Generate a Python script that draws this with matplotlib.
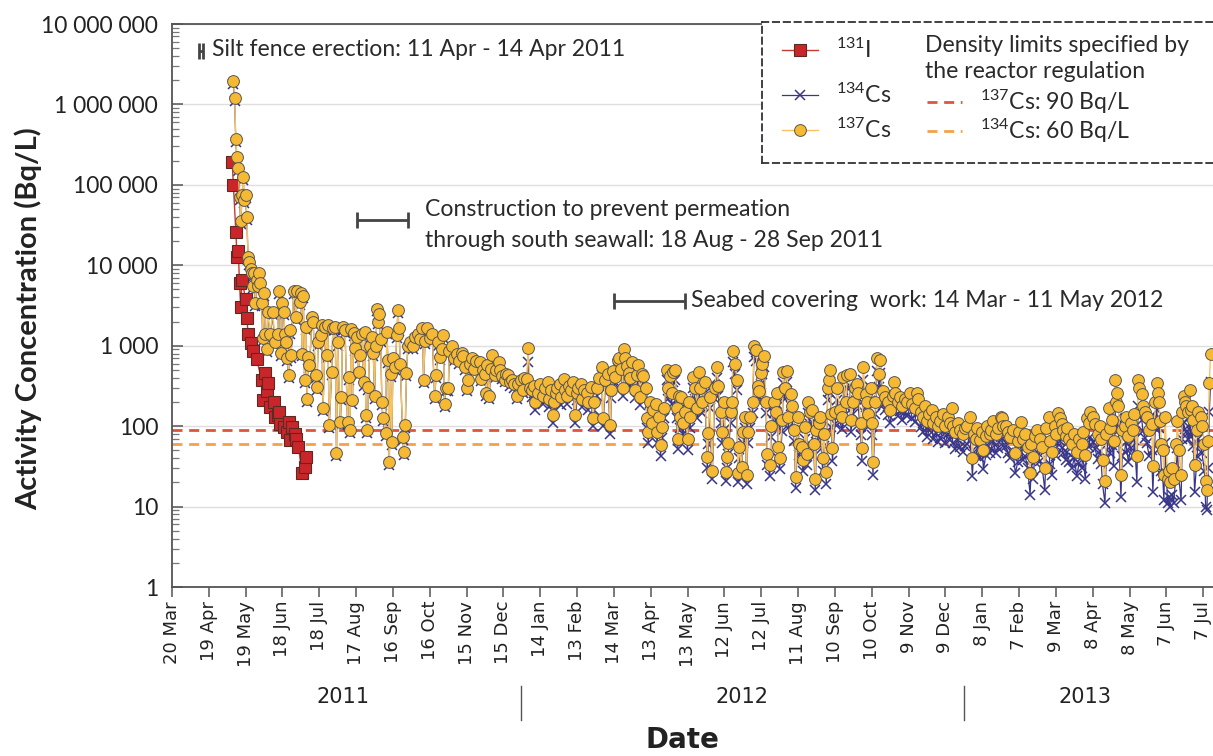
import numpy as np
import matplotlib
matplotlib.use("Agg")
import matplotlib.pyplot as plt
from matplotlib.lines import Line2D
from matplotlib.transforms import blended_transform_factory
from matplotlib.ticker import FixedLocator, FuncFormatter, LogLocator, NullFormatter

plt.rcParams["font.family"] = ["Lato", "DejaVu Sans"]
plt.rcParams["mathtext.fontset"] = "custom"
plt.rcParams["mathtext.rm"] = "Lato"
plt.rcParams["mathtext.it"] = "Lato:italic"
plt.rcParams["mathtext.bf"] = "Lato:bold"

START = np.datetime64("2011-03-20")

# ---- sampling days (days after 20 Mar 2011) and activity concentrations (Bq/L) ----
i131_days = [49, 50, 52, 53, 54, 55, 56, 57, 60, 61, 62, 64, 66, 69, 73, 74, 76, 77, 78, 80,
             83, 84, 86, 87, 88, 91, 94, 95, 96, 98, 100, 101, 103, 106, 108, 109]
i131_bq = [195000, 100000, 26000, 12500, 15000, 6000, 3000, 6500, 3800, 2200, 1380, 1080, 870, 680,
           372, 210, 455, 270, 345, 174, 200, 131, 137, 151, 107, 98, 85, 113, 67, 98, 81, 70, 55,
           26, 31, 41]

cs_days = [
    50, 51, 52, 53, 54, 55, 56, 57, 58, 59, 60, 61, 62, 63, 64, 65, 66, 67, 68, 69,
    70, 71, 72, 73, 74, 75, 76, 77, 78, 80, 82, 84, 86, 87, 89, 90, 91, 92, 93, 94,
    95, 96, 97, 99, 101, 102, 104, 105, 106, 107, 108, 109, 110, 111, 112, 114, 115, 117, 118, 119,
    121, 122, 123, 125, 126, 127, 128, 130, 131, 133, 134, 135, 137, 138, 139, 141, 143, 144, 145, 146,
    147, 148, 149, 151, 152, 153, 155, 156, 157, 158, 159, 160, 161, 163, 164, 165, 166, 167, 168, 169,
    170, 171, 172, 174, 175, 176, 177, 178, 179, 180, 182, 183, 184, 185, 186, 188, 189, 190, 191, 192,
    194, 196, 198, 200, 202, 204, 205, 206, 208, 210, 212, 214, 215, 217, 218, 220, 221, 222, 223, 225,
    226, 228, 230, 232, 234, 236, 237, 239, 240, 241, 243, 244, 246, 248, 251, 252, 253, 255, 256, 257,
    258, 260, 261, 263, 264, 266, 267, 269, 271, 272, 274, 275, 277, 279, 281, 282, 284, 286, 287, 289,
    290, 292, 293, 295, 296, 298, 300, 302, 304, 306, 307, 309, 310, 311, 313, 314, 316, 317, 319, 320,
    322, 323, 325, 327, 328, 330, 331, 333, 334, 336, 338, 339, 341, 343, 344, 346, 348, 350, 351, 353,
    355, 357, 358, 359, 361, 363, 364, 366, 367, 368, 369, 371, 372, 373, 375, 377, 379, 380, 381, 383,
    384, 386, 387, 388, 389, 391, 392, 394, 395, 397, 398, 399, 401, 403, 404, 406, 407, 408, 410, 411,
    412, 413, 414, 415, 416, 418, 420, 421, 422, 424, 426, 428, 429, 430, 432, 434, 436, 437, 438, 440,
    442, 444, 445, 447, 448, 450, 451, 452, 453, 455, 456, 457, 459, 460, 461, 462, 464, 465, 467, 468,
    469, 471, 473, 474, 476, 477, 478, 480, 481, 482, 484, 485, 487, 488, 490, 492, 493, 494, 495, 497,
    498, 499, 501, 502, 504, 505, 507, 508, 510, 511, 513, 514, 516, 517, 518, 520, 521, 523, 524, 525,
    527, 528, 530, 531, 533, 534, 535, 536, 537, 538, 540, 542, 544, 546, 547, 549, 550, 552, 553, 555,
    556, 558, 559, 561, 562, 563, 565, 566, 567, 569, 570, 571, 573, 574, 576, 577, 579, 581, 583, 585,
    587, 588, 589, 591, 593, 595, 597, 599, 601, 603, 605, 607, 608, 610, 612, 613, 615, 617, 619, 620,
    622, 624, 626, 628, 630, 632, 634, 635, 636, 638, 640, 642, 644, 646, 648, 650, 652, 653, 655, 656,
    658, 660, 661, 663, 664, 666, 667, 669, 671, 673, 675, 676, 677, 679, 681, 683, 685, 687, 689, 690,
    692, 693, 695, 697, 699, 700, 701, 703, 705, 707, 709, 711, 712, 714, 715, 717, 719, 720, 722, 723,
    725, 726, 728, 729, 731, 733, 735, 737, 739, 741, 742, 744, 745, 747, 748, 750, 752, 754, 756, 757,
    758, 760, 761, 763, 764, 766, 767, 768, 769, 770, 771, 773, 774, 776, 777, 779, 781, 783, 784, 786,
    787, 788, 790, 791, 793, 794, 796, 798, 799, 801, 802, 803, 804, 805, 806, 807, 808, 809, 811, 812,
    813, 815, 816, 818, 819, 820, 822, 823, 824, 825, 826, 828, 829, 830, 831, 832, 833, 835, 836, 838,
    839, 841, 842, 843, 844, 845, 846]

cs137_bq = [
    1950000, 1200000, 370000, 220000, 160000, 70000, 36000, 74000, 125000, 65000, 74000, 40000, 12600, 11000, 9000, 8000, 5600, 8000, 3400, 6500,
    5600, 8000, 6000, 3400, 1250, 4500, 1400, 900, 2600, 1400, 2600, 1100, 1400, 4800, 820, 3400, 2600, 1400, 1100, 700,
    430, 1550, 760, 4800, 2300, 4800, 3500, 4500, 800, 4200, 370, 1700, 220, 720, 580, 2300, 2000, 430, 305, 1100,
    1350, 1800, 170, 1700, 760, 1800, 102, 470, 1650, 1700, 46, 1100, 112, 230, 1700, 1550, 112, 410, 90, 1600,
    210, 1450, 950, 1300, 470, 760, 1400, 350, 1500, 137, 90, 305, 1000, 1300, 820, 240, 1000, 2900, 2000, 2500,
    1200, 200, 125, 82, 1500, 660, 36, 450, 63, 700, 540, 1350, 2800, 1650, 600, 73, 48, 102, 460, 1000,
    1100, 1000, 1300, 1400, 1200, 1650, 370, 1150, 1650, 1250, 1400, 240, 430, 1100, 720, 900, 1350, 190, 300, 300,
    850, 1000, 700, 800, 650, 820, 750, 550, 300, 370, 600, 700, 520, 650, 630, 390, 500, 450, 260, 570,
    240, 520, 760, 430, 500, 630, 500, 420, 380, 450, 430, 350, 370, 330, 240, 330, 370, 280, 400, 390,
    950, 300, 280, 320, 200, 260, 330, 240, 300, 350, 220, 280, 137, 200, 260, 300, 330, 230, 390, 280,
    240, 320, 280, 350, 137, 260, 300, 330, 220, 280, 260, 200, 310, 125, 200, 300, 400, 540, 125, 380,
    450, 102, 280, 480, 410, 660, 700, 520, 300, 900, 700, 560, 460, 400, 620, 280, 430, 570, 230, 450,
    420, 300, 125, 85, 200, 110, 160, 190, 85, 130, 58, 98, 170, 500, 300, 420, 260, 470, 500, 170,
    70, 240, 130, 230, 110, 150, 70, 200, 130, 410, 300, 170, 470, 300, 200, 350, 41, 82, 230, 28,
    300, 540, 320, 150, 85, 200, 27, 41, 62, 150, 200, 850, 600, 380, 26, 55, 31, 85, 130, 25,
    85, 130, 200, 1000, 880, 320, 270, 460, 600, 750, 200, 45, 33, 100, 200, 150, 260, 55, 40, 120,
    470, 300, 480, 130, 250, 180, 90, 23, 130, 60, 55, 38, 98, 45, 200, 150, 160, 60, 22, 90,
    110, 130, 40, 80, 27, 300, 380, 500, 140, 53, 150, 300, 160, 130, 410, 200, 430, 450, 120, 200,
    300, 330, 260, 110, 53, 540, 250, 200, 140, 300, 110, 36, 200, 700, 450, 660, 270, 230, 200, 160,
    240, 350, 260, 200, 230, 180, 220, 200, 260, 190, 170, 260, 220, 150, 130, 180, 115, 140, 160, 110,
    130, 100, 115, 140, 100, 130, 110, 170, 100, 85, 110, 90, 80, 95, 100, 130, 40, 80, 70, 95,
    68, 85, 50, 75, 100, 80, 90, 115, 80, 95, 130, 125, 100, 100, 85, 73, 90, 47, 65, 85,
    112, 70, 80, 55, 26, 60, 41, 75, 90, 70, 55, 30, 95, 130, 65, 48, 100, 80, 145, 125,
    105, 90, 75, 95, 70, 60, 80, 48, 70, 60, 85, 44, 125, 110, 150, 130, 105, 80, 100, 70,
    38, 21, 80, 167, 95, 120, 65, 370, 200, 260, 180, 25, 90, 100, 130, 75, 110, 90, 140, 42,
    380, 300, 250, 180, 150, 130, 90, 105, 32, 200, 340, 260, 200, 115, 60, 50, 25, 130, 22, 28,
    20, 30, 22, 60, 115, 50, 25, 150, 240, 200, 180, 150, 280, 160, 180, 120, 33, 90, 150, 130,
    100, 60, 21, 16, 65, 340, 800]

cs134_bq = [
    1800000, 1100000, 340000, 200000, 150000, 64000, 33000, 68000, 115000, 60000, 68000, 37000, 11600, 10000, 8300, 7400, 5200, 7400, 3100, 6000,
    5200, 7400, 5500, 3100, 1150, 4100, 1300, 830, 2400, 1300, 2400, 1000, 1300, 4400, 750, 3100, 2400, 1300, 1000, 640,
    400, 1400, 700, 4400, 2100, 4400, 3200, 4100, 740, 3900, 340, 1560, 200, 660, 530, 2100, 1840, 400, 280, 1000,
    1240, 1650, 156, 1560, 700, 1650, 94, 430, 1520, 1560, 42, 1000, 103, 210, 1560, 1430, 103, 380, 83, 1470,
    190, 1330, 870, 1200, 430, 700, 1290, 320, 1380, 126, 83, 280, 920, 1200, 750, 220, 920, 2670, 1840, 2300,
    1100, 184, 115, 75, 1380, 610, 33, 410, 58, 640, 500, 1240, 2580, 1520, 550, 67, 44, 94, 420, 920,
    1000, 920, 1200, 1290, 1100, 1520, 340, 1060, 1520, 1150, 1290, 220, 400, 1000, 660, 830, 1240, 175, 276, 276,
    780, 920, 640, 740, 600, 750, 690, 500, 276, 340, 550, 640, 480, 600, 580, 360, 460, 410, 240, 520,
    220, 480, 700, 400, 460, 580, 460, 390, 350, 410, 400, 320, 340, 300, 220, 300, 340, 260, 370, 360,
    620, 276, 230, 260, 160, 210, 270, 190, 240, 280, 175, 225, 110, 160, 210, 240, 260, 185, 310, 225,
    190, 255, 225, 280, 110, 210, 240, 260, 175, 225, 210, 160, 250, 100, 160, 240, 320, 430, 100, 300,
    360, 80, 225, 380, 330, 530, 560, 420, 240, 720, 560, 450, 370, 320, 500, 225, 345, 455, 185, 360,
    335, 240, 95, 62, 150, 80, 120, 140, 62, 95, 42, 72, 125, 370, 220, 310, 190, 350, 370, 125,
    52, 175, 95, 170, 80, 110, 50, 145, 95, 300, 220, 125, 345, 220, 145, 255, 30, 60, 170, 22,
    220, 395, 235, 110, 62, 145, 21, 30, 45, 110, 145, 620, 440, 280, 20, 40, 23, 62, 95, 19,
    62, 95, 145, 730, 640, 235, 200, 335, 440, 550, 145, 33, 24, 73, 145, 110, 190, 40, 29, 88,
    340, 220, 350, 95, 180, 130, 65, 17, 95, 44, 40, 28, 70, 33, 145, 105, 112, 42, 16, 63,
    77, 91, 28, 56, 19, 210, 265, 350, 98, 37, 105, 210, 112, 91, 285, 140, 300, 315, 84, 140,
    210, 230, 180, 77, 37, 375, 175, 140, 98, 210, 77, 25, 140, 480, 310, 455, 185, 160, 138, 110,
    165, 240, 180, 135, 155, 120, 148, 133, 172, 126, 112, 170, 144, 97, 85, 117, 74, 90, 102, 70,
    82, 63, 72, 88, 62, 80, 68, 105, 62, 52, 67, 55, 48, 57, 60, 78, 24, 48, 42, 56,
    40, 50, 29, 44, 58, 46, 52, 66, 46, 54, 74, 70, 56, 56, 47, 40, 49, 26, 36, 46,
    60, 38, 43, 30, 14, 32, 22, 40, 48, 37, 29, 16, 50, 68, 34, 25, 52, 42, 75, 65,
    54, 46, 38, 48, 36, 30, 40, 24, 35, 30, 42, 22, 62, 55, 74, 64, 52, 39, 49, 34,
    19, 11, 39, 81, 46, 58, 32, 180, 97, 126, 87, 13, 43, 48, 63, 36, 53, 43, 67, 20,
    180, 143, 119, 86, 71, 62, 43, 50, 15, 95, 160, 123, 94, 54, 28, 24, 12, 61, 11, 13,
    10, 14, 11, 28, 54, 24, 12, 70, 112, 93, 84, 70, 130, 74, 84, 56, 15, 42, 70, 60,
    46, 28, 10, 9, 30, 150, 350]

limit_cs137 = 90
limit_cs134 = 60

tick_labels = ["20 Mar", "19 Apr", "19 May", "18 Jun", "18 Jul", "17 Aug", "16 Sep", "16 Oct",
               "15 Nov", "15 Dec", "14 Jan", "13 Feb", "14 Mar", "13 Apr", "13 May", "12 Jun",
               "12 Jul", "11 Aug", "10 Sep", "10 Oct", "9 Nov", "9 Dec", "8 Jan", "7 Feb",
               "9 Mar", "8 Apr", "8 May", "7 Jun", "7 Jul"]

works = [("2011-04-11", "2011-04-14", 4.6e6),
         ("2011-08-18", "2011-09-28", 3.7e4),
         ("2012-03-14", "2012-05-11", 3.6e3)]

years = ["2011", "2012", "2013"]


def day_of(date_str):
    return int((np.datetime64(date_str) - START) / np.timedelta64(1, "D"))


W, H = 1213, 756
fig = plt.figure(figsize=(W / 100, H / 100), dpi=100)
ax = fig.add_axes([172 / W, 1 - 587 / H, 1041 / W, 563 / H])

ax.set_yscale("log")
ax.set_ylim(1, 1e7)
ax.set_xlim(0, 848)

# horizontal grid
ax.yaxis.grid(True, which="major", color="#dedede", lw=1.0, zorder=0)
ax.set_axisbelow(True)

# regulation limits
ax.axhline(limit_cs137, color="#e0533d", lw=2.0, ls=(0, (3.6, 2.4)), zorder=1)
ax.axhline(limit_cs134, color="#f5a04a", lw=2.0, ls=(0, (3.6, 2.4)), zorder=1)

c134 = "#39368a"
ax.plot(cs_days, cs134_bq, color=c134, lw=0.9, marker="x", ms=7.5, mew=1.1, zorder=3)
ax.plot(i131_days, i131_bq, color="#c83a30", lw=1.0, marker="s", ms=8,
        mfc="#c8262a", mec="#5c2a24", mew=0.8, zorder=4)
ax.plot(cs_days, cs137_bq, color="#f7c35e", lw=1.0, marker="o", ms=8.5,
        mfc="#f6b934", mec="#5a5650", mew=0.7, zorder=5)

# work periods
for start, end, level in works:
    d0, d1 = day_of(start), day_of(end)
    ax.errorbar([(d0 + d1) / 2], [level], xerr=[(d1 - d0) / 2], fmt="none",
                ecolor="#444444", elinewidth=2.0, capsize=6, capthick=2.0, zorder=6)

ann_kw = dict(transform=ax.transAxes, fontsize=16.6, color="#2a2a2a", va="center", ha="left")
ax.text(0.0384, 0.954, "Silt fence erection: 11 Apr - 14 Apr 2011", **ann_kw)
ax.text(0.243, 0.670, "Construction to prevent permeation", **ann_kw)
ax.text(0.243, 0.616, "through south seawall: 18 Aug - 28 Sep 2011", **ann_kw)
ax.text(0.4986, 0.508, "Seabed covering  work: 14 Mar - 11 May 2012", **ann_kw)

# axes styling
for side in ("left", "bottom", "top"):
    ax.spines[side].set_color("#555555")
    ax.spines[side].set_linewidth(1.3)
ax.spines["right"].set_visible(False)

ax.xaxis.set_major_locator(FixedLocator(np.arange(0, 30 * len(tick_labels), 30)))
ax.set_xticklabels(tick_labels, rotation=90, family="DejaVu Sans", fontsize=13, color="#222222")
ax.tick_params(axis="x", direction="out", length=7, width=1.1, color="#555555", pad=3)

ax.yaxis.set_major_locator(LogLocator(base=10, numticks=10))
ax.yaxis.set_minor_locator(LogLocator(base=10, subs=np.arange(2, 10), numticks=12))
ax.yaxis.set_minor_formatter(NullFormatter())
ax.yaxis.set_major_formatter(FuncFormatter(lambda v, p: f"{int(round(v)):,}".replace(",", " ")))
ax.tick_params(axis="y", which="major", direction="in", length=8, width=1.1, color="#555555",
               labelsize=16.5, labelcolor="#222222", pad=10)
ax.tick_params(axis="y", which="minor", direction="in", length=5, width=0.9, color="#777777")

fig.text(0.023, 0.578, "Activity Concentration (Bq/L)", rotation=90, ha="center", va="center",
         fontsize=21, fontweight="bold", color="#222222")

# year bands under the date axis
band_tr = blended_transform_factory(ax.transData, fig.transFigure)
for sep_day in (day_of("2011-12-29"), day_of("2012-12-24")):
    ax.add_line(Line2D([sep_day, sep_day], [(756 - 720) / H, (756 - 686) / H],
                       transform=band_tr, color="#555555", lw=1.0, clip_on=False))
for label, center in zip(years, (139, 464, 744)):
    ax.text(center, (756 - 697) / H, label, transform=band_tr, ha="center", va="center",
            fontsize=15, family="DejaVu Sans", color="#222222")
fig.text(682 / W, (756 - 740) / H, "Date", ha="center", va="center", fontsize=20,
         fontweight="bold", family="DejaVu Sans", color="#222222")

# legend panel
lg = fig.add_axes([762 / W, 1 - 163 / H, 460 / W, 141 / H])
lg.set_xlim(0, 1)
lg.set_ylim(0, 1)
lg.set_xticks([])
lg.set_yticks([])
lg.set_facecolor("white")
for s in lg.spines.values():
    s.set_linestyle((0, (3.5, 2.5)))
    s.set_linewidth(1.3)
    s.set_color("#333333")

lx = [0.0435, 0.1217]
lg.plot(lx, [0.80, 0.80], color="#c83a30", lw=1.0)
lg.plot([0.0826], [0.80], marker="s", ms=8, mfc="#c8262a", mec="#5c2a24", mew=0.8)
lg.plot(lx, [0.482, 0.482], color=c134, lw=0.9)
lg.plot([0.0826], [0.482], marker="x", ms=7.5, mew=1.1, color=c134)
lg.plot(lx, [0.234, 0.234], color="#f7c35e", lw=1.0)
lg.plot([0.0826], [0.234], marker="o", ms=8.5, mfc="#f6b934", mec="#5a5650", mew=0.7)

leg_kw = dict(fontsize=16.6, color="#2a2a2a", va="center", ha="left")
lg.text(0.161, 0.80, r"$^{131}$I", **leg_kw)
lg.text(0.161, 0.482, r"$^{134}$Cs", **leg_kw)
lg.text(0.161, 0.234, r"$^{137}$Cs", **leg_kw)
lg.text(0.354, 0.83, "Density limits specified by", **leg_kw)
lg.text(0.354, 0.652, "the reactor regulation", **leg_kw)
lg.plot([0.359, 0.435], [0.433, 0.433], color="#e0533d", lw=2.0, ls=(0, (3.6, 2.4)))
lg.plot([0.359, 0.435], [0.227, 0.227], color="#f5a04a", lw=2.0, ls=(0, (3.6, 2.4)))
lg.text(0.474, 0.433, r"$^{137}$Cs: 90 Bq/L", **leg_kw)
lg.text(0.474, 0.227, r"$^{134}$Cs: 60 Bq/L", **leg_kw)

fig.savefig("out.png", dpi=100)
